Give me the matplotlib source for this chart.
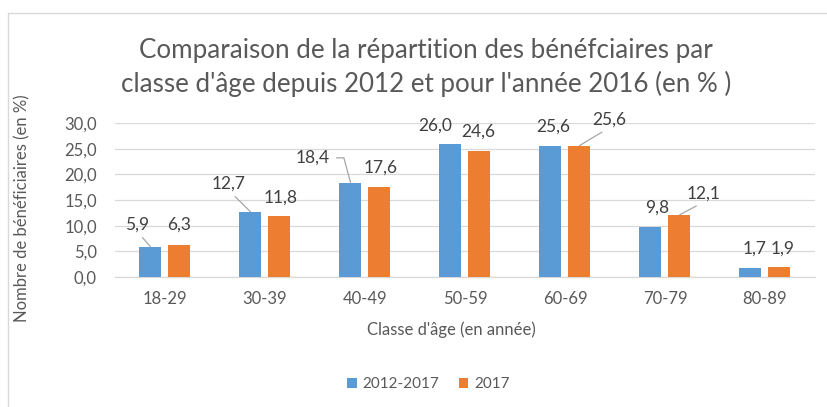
import matplotlib
matplotlib.use("Agg")
import matplotlib.pyplot as plt
from matplotlib.patches import Rectangle
import numpy as np

plt.rcParams['font.family'] = ['Lato', 'DejaVu Sans']

categories = ["18-29", "30-39", "40-49", "50-59", "60-69", "70-79", "80-89"]
series_names = ["2012-2017", "2017"]
values_2012_2017 = [5.9, 12.7, 18.4, 26.0, 25.6, 9.8, 1.7]
values_2017 = [6.3, 11.8, 17.6, 24.6, 25.6, 12.1, 1.9]
yticks = [0, 5, 10, 15, 20, 25, 30]

title = "Comparaison de la répartition des bénéfciaires par\nclasse d'âge depuis 2012 et pour l'année 2016 (en % )"
xlabel = "Classe d'âge (en année)"
ylabel = "Nombre de bénéficiaires (en %)"

BLUE = "#5B9BD5"
ORANGE = "#ED7D31"
GRID = "#D9D9D9"
TXT = "#595959"
LBL = "#404040"
LEAD = "#A6A6A6"

W, H = 828, 407
fig = plt.figure(figsize=(W / 100, H / 100), dpi=100)
fig.patch.set_facecolor("white")

# outer chart border
fig.add_artist(Rectangle((8 / W, -0.1), 1.1, 1 - 13 / H + 0.1, transform=fig.transFigure,
                         fill=False, edgecolor="#D9D9D9", lw=1.0))

ax = fig.add_axes([115 / W, 1 - 277 / H, 700 / W, 154 / H])
x = np.arange(len(categories))
bw = 0.22
off = 0.145
b1 = ax.bar(x - off, values_2012_2017, bw, color=BLUE, label=series_names[0], zorder=3)
b2 = ax.bar(x + off, values_2017, bw, color=ORANGE, label=series_names[1], zorder=3)

ax.set_xlim(-0.5, len(categories) - 0.5)
ax.set_ylim(0, 30)
ax.set_yticks(yticks)
ax.set_yticklabels([f"{v:.1f}".replace(".", ",") for v in yticks])
ax.set_xticks(x)
ax.set_xticklabels(categories)
ax.tick_params(axis="y", length=0, pad=13, labelsize=12, labelcolor=TXT)
ax.tick_params(axis="x", length=0, pad=10, labelsize=12, labelcolor=TXT)
ax.grid(axis="y", color=GRID, lw=0.9, zorder=0)
for s in ["top", "right", "left"]:
    ax.spines[s].set_visible(False)
ax.spines["bottom"].set_color(GRID)
ax.spines["bottom"].set_linewidth(0.9)
ax.set_facecolor("white")

# label offsets in pixels (dx, dy) and leader styles
offs1 = [(-13.5, 22), (-22, 28), (-38, 24.7), (-15, 18), (2.5, 18.7), (6.5, 19), (4.5, 19.6)]
lead1 = ["diag", "diag", "angle", None, None, None, None]
offs2 = [(0, 20), (1.5, 18.6), (1.5, 19), (-1, 19), (29.5, 25.7), (24.5, 21), (3.5, 18.5)]
lead2 = [None, None, None, None, "diag", "diag", None]

def fmt(v):
    return f"{v:.1f}".replace(".", ",")

def label_bars(xs, vals, offs, leads):
    for xi, v, (dx, dy), ld in zip(xs, vals, offs, leads):
        kw = dict(xy=(xi, v), xytext=(dx, dy), textcoords="offset pixels",
                  ha="center", va="center", fontsize=12.5, color=LBL, zorder=5)
        if ld == "diag":
            kw["arrowprops"] = dict(arrowstyle="-", color=LEAD, lw=0.9, shrinkA=2, shrinkB=0,
                                    relpos=(0.5 if dx > 0 else 0.55, 0))
        elif ld == "angle":
            kw["arrowprops"] = dict(arrowstyle="-", color=LEAD, lw=0.9, shrinkA=3, shrinkB=0,
                                    relpos=(1, 0.5),
                                    connectionstyle="angle,angleA=0,angleB=105,rad=0")
        ax.annotate(fmt(v), **kw)

label_bars(x - off, values_2012_2017, offs1, lead1)
label_bars(x + off, values_2017, offs2, lead2)

fig.text(426 / W, 1 - 67.5 / H, title, ha="center", va="center", fontsize=18.7,
         color=TXT, linespacing=1.38)
fig.text(451 / W, 1 - 330 / H, xlabel, ha="center", va="center", fontsize=12, color=TXT)
fig.text(22 / W, 1 - 208 / H, ylabel, ha="center", va="center", rotation=90,
         fontsize=12, color=TXT)

leg = fig.legend(handles=[b1, b2], labels=series_names, loc="center",
                 bbox_to_anchor=(428 / W, 1 - 384 / H), ncol=2, frameon=False,
                 fontsize=11, handlelength=0.65, handleheight=0.65, handletextpad=0.35,
                 columnspacing=1.3, labelcolor=TXT)

fig.savefig("out.png", dpi=100, facecolor="white")
